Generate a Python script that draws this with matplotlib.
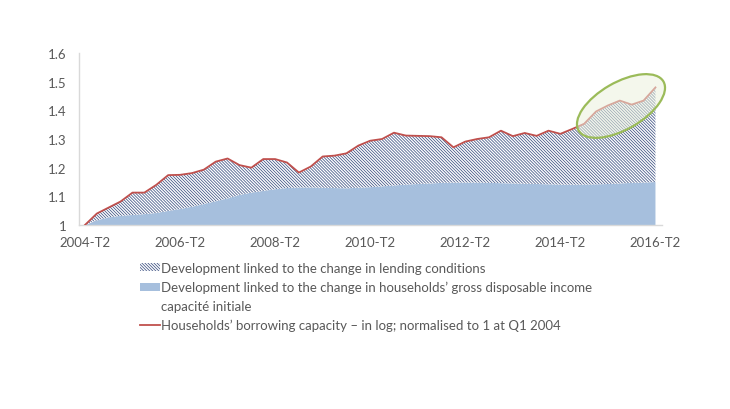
import matplotlib

matplotlib.use("Agg")
import matplotlib.pyplot as plt
from matplotlib.lines import Line2D
from matplotlib.patches import Ellipse, Patch

# ---- data (quarterly, 2004-T2 .. 2016-T2) --------------------------------
QUARTERS = [f"{y}-T{q}" for y in range(2004, 2017) for q in (1, 2, 3, 4)][1:50]
TICK_LABELS = ["2004-T2", "2006-T2", "2008-T2", "2010-T2", "2012-T2", "2014-T2", "2016-T2"]

BORROWING = [1.000, 1.040, 1.061, 1.082, 1.113, 1.113, 1.140, 1.174, 1.175, 1.181,
             1.193, 1.221, 1.232, 1.209, 1.200, 1.230, 1.230, 1.218, 1.183, 1.204,
             1.239, 1.242, 1.250, 1.277, 1.294, 1.300, 1.322, 1.312, 1.311, 1.310,
             1.306, 1.271, 1.291, 1.300, 1.306, 1.329, 1.310, 1.321, 1.311, 1.329,
             1.318, 1.335, 1.353, 1.396, 1.417, 1.434, 1.420, 1.434, 1.480]
INCOME = [1.000, 1.016, 1.027, 1.032, 1.035, 1.038, 1.042, 1.049, 1.056, 1.064,
          1.073, 1.083, 1.093, 1.105, 1.113, 1.119, 1.125, 1.129, 1.131, 1.131,
          1.130, 1.129, 1.128, 1.130, 1.132, 1.135, 1.138, 1.141, 1.143, 1.145,
          1.147, 1.148, 1.148, 1.148, 1.147, 1.146, 1.145, 1.144, 1.143, 1.142,
          1.141, 1.141, 1.141, 1.142, 1.143, 1.145, 1.147, 1.148, 1.150]

LABELS = [
    "Development linked to the change in lending conditions",
    "Development linked to the change in households\u2019 gross disposable income",
    "capacit\u00e9 initiale",
    "Households\u2019 borrowing capacity \u2013 in log; normalised to 1 at Q1 2004",
]

BLUE, NAVY, RED, GREEN, GREY = "#a6bfdd", "#3f5384", "#c0504d", "#9bbb59", "#595959"
HATCH = "\\" * 11

plt.rcParams["font.family"] = ["Lato", "DejaVu Sans"]
plt.rcParams["hatch.linewidth"] = 0.55
plt.rcParams["hatch.color"] = NAVY

fig = plt.figure(figsize=(7.3, 4.1), dpi=100)
ax = fig.add_axes([79 / 730, 184 / 410, 583 / 730, 172 / 410])

x = list(range(len(QUARTERS)))
ax.fill_between(x, 1.0, INCOME, facecolor=BLUE, edgecolor="none", lw=0, zorder=1)
ax.fill_between(x, INCOME, BORROWING, facecolor="white", edgecolor=NAVY,
                hatch=HATCH, lw=0, zorder=1)
ax.plot(x, BORROWING, color=RED, lw=1.3, zorder=3)

ax.set_xlim(-0.5, 48.55)
ax.set_ylim(1.0, 1.6)
ax.set_yticks([1.0, 1.1, 1.2, 1.3, 1.4, 1.5, 1.6])
ax.set_yticklabels(["1", "1.1", "1.2", "1.3", "1.4", "1.5", "1.6"])
ax.set_xticks([QUARTERS.index(t) for t in TICK_LABELS])
ax.set_xticklabels(TICK_LABELS)
ax.tick_params(length=0, labelsize=9.5, colors=GREY, pad=8)
ax.tick_params(axis="y", pad=9)
for side in ("top", "right"):
    ax.spines[side].set_visible(False)
for side in ("left", "bottom"):
    ax.spines[side].set_color("#d9d9d9")
    ax.spines[side].set_linewidth(1.0)

# highlight ellipse around the last quarters
fig.add_artist(Ellipse((6.21, 3.03), 0.98, 0.47, angle=30,
                       transform=fig.dpi_scale_trans, facecolor="#ebf1de",
                       alpha=0.55, edgecolor="none", zorder=5))
fig.add_artist(Ellipse((6.21, 3.03), 0.98, 0.47, angle=30,
                       transform=fig.dpi_scale_trans, facecolor="none",
                       edgecolor=GREEN, lw=1.6, zorder=6))

handles = [
    Patch(facecolor="white", edgecolor=NAVY, hatch=HATCH, lw=0),
    Patch(facecolor=BLUE, edgecolor="none"),
    Patch(facecolor="none", edgecolor="none"),
    Line2D([], [], color=RED, lw=1.3),
]
fig.legend(handles, LABELS, loc="upper left", bbox_to_anchor=(140 / 730, 1 - 263 / 410),
           frameon=False, fontsize=9.5, labelcolor=GREY, borderpad=0, borderaxespad=0,
           handlelength=1.5, handleheight=0.55, handletextpad=0.1, labelspacing=0.52)

fig.savefig("out.png", dpi=100, facecolor="white")
